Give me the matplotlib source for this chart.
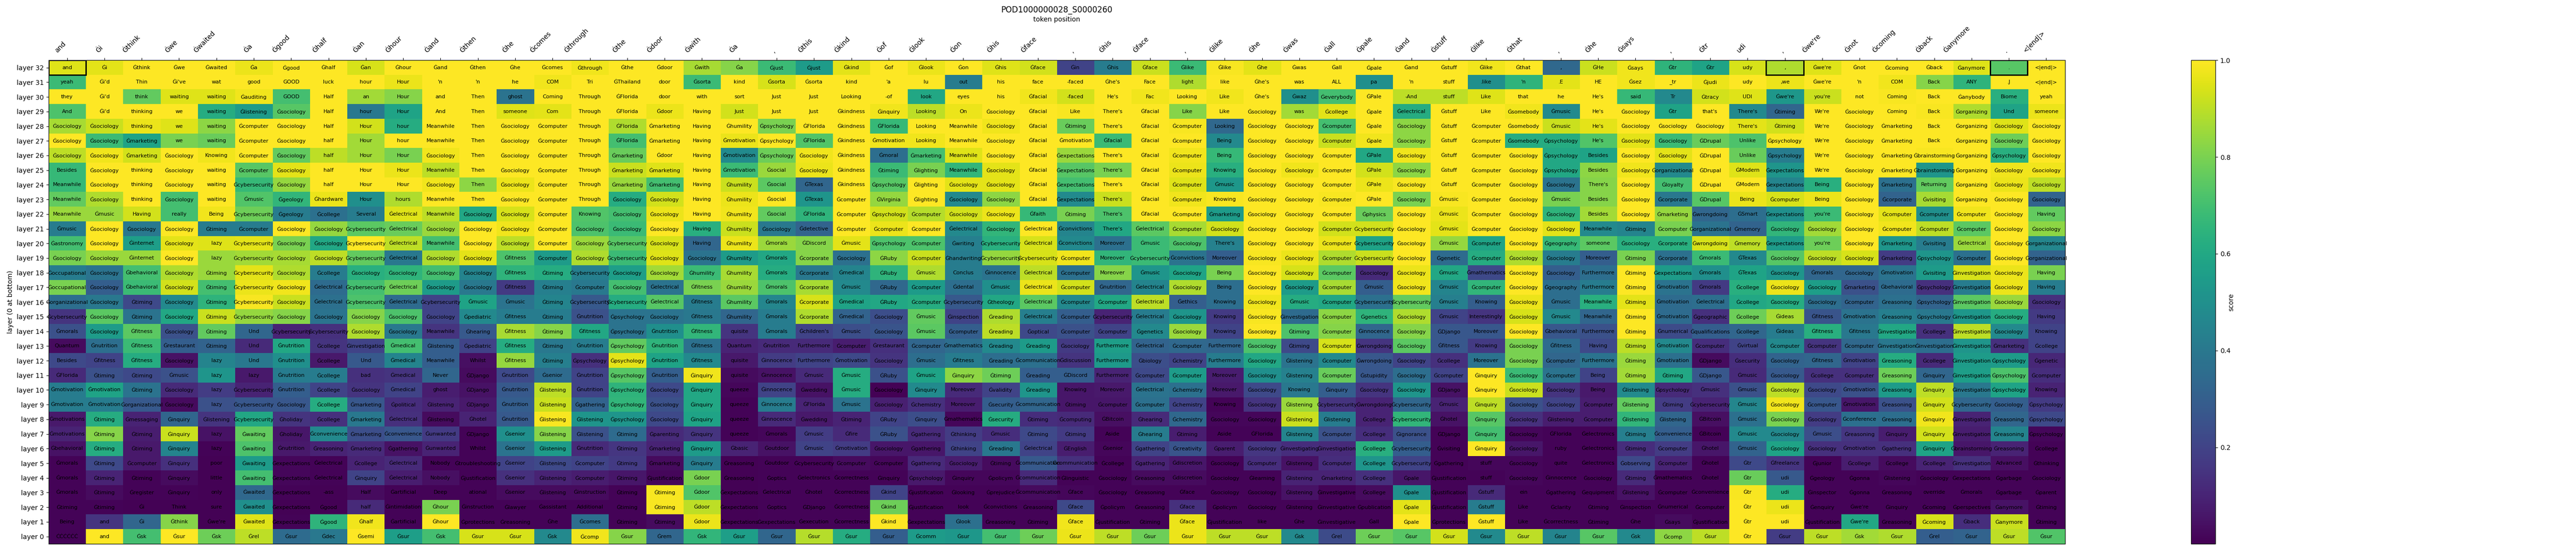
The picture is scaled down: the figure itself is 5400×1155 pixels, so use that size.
import matplotlib
matplotlib.use("Agg")
import matplotlib.pyplot as plt
import numpy as np
from matplotlib.patches import Rectangle

TITLE = "POD1000000028_S0000260"
TOKENS = ["and","Ġi","Ġthink","Ġwe","Ġwaited","Ġa","Ġgood","Ġhalf","Ġan","Ġhour","Ġand","Ġthen","Ġhe","Ġcomes","Ġthrough","Ġthe","Ġdoor","Ġwith","Ġa",",",
          "Ġthis","Ġkind","Ġof","Ġlook","Ġon","Ġhis","Ġface",",","Ġhis","Ġface",",","Ġlike","Ġhe","Ġwas","Ġall","Ġpale","Ġand","Ġstuff","Ġlike","Ġthat",",",
          "Ġhe","Ġsays",",","Ġtr","udi",",","Ġwe're","Ġnot","Ġcoming","Ġback","Ġanymore",".","<|end|>"]
LAYERS = [f"layer {i}" for i in range(32, -1, -1)]
HIGHLIGHT_COLUMNS = [0, 46, 52]

W00 = "and yeah they And Ġsociology Ġsociology Ġsociology Besides Meanwhile Meanwhile Meanwhile Ġmusic Ġastronomy Ġsociology Ġoccupational Ġoccupational Ġorganizational Ġcybersecurity Ġmorals Quantum Besides ĠFlorida Ġmotivation Ġmotivation Ġmotivations Ġmotivations Ġbehavioral Ġmorals Ġmorals Ġmorals Ġtiming Being ĊĊĊĊĊĊ".split()
S00 = [.95,.68,1,.72,.87,1,.9,.67,.67,.76,.85,.42,.7,.8,.42,.8,.36,.15,.25,.03,.22,.12,.42,.42,.07,.1,.05,.01,.01,.01,.01,.01,.01]
W01 = "Ġi Ġi'd Ġi'd Ġi'd Ġsociology Ġsociology Ġsociology Ġsociology Ġsociology Ġsociology Ġmusic Ġsociology Ġsociology Ġsociology Ġsociology Ġsociology Ġsociology Ġsociology Ġsociology Ġnutrition Ġfitness Ġtiming Ġmotivation Ġmotivation Ġtiming Ġtiming Ġtiming Ġtiming Ġtiming Ġtiming Ġtiming and and".split()
S01 = [.96,1,1,1,.92,.68,.98,1,1,.88,.85,1,1,.85,.38,.3,.4,.75,.55,.36,.2,.25,.58,.42,.62,.82,.62,.22,.1,.03,.01,.15,1]
W02 = "Ġthink Thin think thinking thinking Ġmarketing Ġmarketing thinking thinking thinking Having Ġsociology Ġinternet Ġinternet Ġbehavioral Ġbehavioral Ġtiming Ġtiming Ġfitness Ġfitness Ġfitness Ġtiming Ġtiming Ġorganizational Ġmessaging Ġtiming Ġtiming Ġcomputer Ġtiming Ġregister Ġi Ġi Ġsk".split()
S02 = [1,1,.76,1,.97,.58,.93,1,1,1,.93,.4,.56,.85,.7,.68,.22,.38,.75,.68,.62,.22,.38,.28,.1,.08,.07,.07,.01,.01,.005,.33,.7]
W03 = "Ġwe Ġi've waiting we we we Ġsociology Ġsociology Ġsociology Ġsociology really Ġsociology Ġsociology Ġsociology Ġsociology Ġsociology Ġsociology Ġsociology Ġsociology Ġrestaurant Ġsociology Ġmusic Ġsociology Ġsociology Ġinquiry Ġinquiry Ġinquiry Ġinquiry Ġinquiry Ġinquiry Think Ġthink Ġsur".split()
S03 = [1,1,.95,1,.95,.8,1,1,1,.7,.7,1,.96,1,.88,.93,.47,.6,.25,.3,.05,.25,.12,.03,.33,.92,.45,.14,.03,.01,.005,.82,1]
W04 = "Ġwaited wat waiting waiting waiting waiting Knowing waiting waiting waiting Being Ġtiming lazy lazy Ġtiming Ġtiming Ġtiming Ġtiming Ġtiming Ġtiming lazy lazy lazy lazy Ġlistening lazy lazy poor little only sure Ġwe're Ġsk".split()
S04 = [1,1,.95,.62,.83,.77,.98,1,1,1,.98,.42,.95,.85,.85,.7,.65,.92,.76,.32,.45,.52,.18,.25,.15,.05,.01,.005,.005,.005,.005,.005,.78]
W05 = "Ġa good Ġauditing Ġlistening Ġcomputer Ġcomputer Ġcomputer Ġcomputer Ġcybersecurity Ġmusic Ġcybersecurity Ġcomputer Ġcybersecurity Ġcybersecurity Ġcybersecurity Ġcybersecurity Ġcybersecurity Ġcybersecurity Und Und Und lazy Ġcybersecurity Ġcybersecurity Ġcybersecurity Ġwaiting Ġwaiting Ġwaiting Ġwaiting Ġwaited Ġwaited Ġwaited Ġrel".split()
S05 = [.97,1,.98,.55,1,1,1,.74,.67,.73,.78,.42,.96,.86,.96,.97,.99,.84,.33,.12,.4,.07,.1,.27,.6,.76,.72,.55,.7,.34,.5,.95,.9]
W06 = "Ġgood GOOD GOOD Ġsociology Ġsociology Ġsociology Ġsociology Ġsociology Ġsociology Ġgeology Ġgeology Ġsociology Ġsociology Ġsociology Ġsociology Ġsociology Ġsociology Ġsociology Ġcybersecurity Ġnutrition Ġnutrition Ġnutrition Ġnutrition Ġsociology Ġholiday Ġholiday Ġnutrition Ġexpectations Ġexpectations Ġexpectations Ġexpectations Ġexpectations Ġsur".split()
S06 = [1,1,.7,.74,1,1,.76,.96,.84,.66,.42,1,.8,.87,.88,.98,.92,.82,.1,.6,.5,.42,.3,.27,.15,.06,.07,.02,.02,.01,.005,.01,.35]
W07 = "Ġhalf luck Half Half Half half half half half Ġhardware Ġcollege Ġsociology Ġsociology Ġsociology Ġcollege Ġelectrical Ġelectrical Ġsociology Ġcybersecurity Ġcollege Ġcollege Ġcollege Ġcollege Ġcollege Ġcollege Ġconvenience Ġreasoning Ġelectrical Ġelectrical -ass Ġgood Ġgood Ġdec".split()
S07 = [1,1,1,1,1,1,.9,1,1,.97,.37,.84,.6,.9,.42,.35,.37,.38,.14,.15,.07,.42,.2,.62,.14,.47,.1,.01,.01,.005,.005,.65,.4]
W08 = "Ġan hour an hour Hour Hour Hour Hour Hour Hour Several Ġcybersecurity Ġcybersecurity Ġcybersecurity Ġsociology Ġcybersecurity Ġcybersecurity Ġsociology Ġsociology Ġinvestigation Und bad Ġsociology Ġmarketing Ġmarketing Ġmarketing Ġmarketing Ġcollege Ġinquiry Half half Ġhalf Ġsemi".split()
S08 = [.94,1,.86,.4,.93,.86,.86,1,1,.5,.42,.75,1,.76,.63,.7,.72,.82,.88,.2,.28,.14,.15,.27,.4,.24,.12,.1,.2,.03,.12,.98,1]
W09 = "Ġhour Hour Hour Hour hour hour Hour Hour Hour hours Ġelectrical Ġelectrical Ġelectrical Ġelectrical Ġsociology Ġelectrical Ġelectrical Ġsociology Ġsociology Ġmedical Ġmedical Ġmedical Ġmedical Ġpolitical Ġelectrical Ġconvenience Ġgathering Ġelectrical Ġelectrical Ġartificial Ġintimidation Ġartificial Ġsur".split()
S09 = [1,.97,.82,.58,.62,1,.8,.97,1,.88,.95,.77,.9,.4,.65,.78,.35,.72,.4,.7,.45,.15,.2,.13,.14,.27,.05,.12,.08,.01,.01,.01,.56]
W10 = "Ġand 'n and And Meanwhile Meanwhile Ġsociology Meanwhile Ġsociology Meanwhile Meanwhile Ġsociology Meanwhile Ġsociology Ġsociology Ġsociology Ġcybersecurity Ġsociology Meanwhile Ġlistening Meanwhile Never ghost Ġlistening Ġlistening Ġunwanted Ġunwanted Nobody Nobody Deep Ġhour Ġhour Ġsk".split()
S10 = [1,1,1,1,1,1,.98,.9,.98,1,.9,.85,.7,.88,.7,.55,.2,.2,.15,.3,.3,.33,.08,.1,.03,.17,.1,.01,.04,.01,.8,1,.7]
W11 = "Ġthen 'n Then Then Then Then Then Then Then Then Ġsociology Ġsociology Ġsociology Ġsociology Ġsociology Ġsociology Ġmusic Ġpediatric Ġhearing Ġpediatric Whilst ĠDjango ĠDjango ĠDjango Ġhotel ĠDjango Whilst Ġtroubleshooting Ġjustification ational Ġinstruction Ġprotections Ġsur".split()
S11 = [1,1,1,1,1,1,1,1,.83,1,.6,1,1,.96,.45,.4,.58,.47,.28,.2,.04,.03,.05,.07,.1,.01,.01,.01,.01,.01,.01,.01,.94]
W12 = "Ġhe he ghost someone Ġsociology Ġsociology Ġsociology Ġsociology Ġsociology Ġsociology Ġsociology Ġsociology Ġsociology Ġfitness Ġfitness Ġfitness Ġmusic Ġfitness Ġfitness Ġfitness Ġfitness Ġnutrition Ġnutrition Ġnutrition Ġnutrition Ġsenior Ġsenior Ġsenior Ġsenior Ġsenior Ġlawyer Ġreasoning Ġsur".split()
S12 = [1,1,.38,.95,1,1,1,1,.97,1,.94,.98,.9,.72,.65,.17,.38,.42,.87,.62,.84,.22,.28,.3,.28,.5,.38,.2,.14,.03,.01,.01,.94]
W13 = "Ġcomes COM Coming Com Ġcomputer Ġcomputer Ġcomputer Ġcomputer Ġcomputer Ġcomputer Ġcomputer Ġcomputer Ġcomputer Ġcomputer Ġtiming Ġtiming Ġtiming Ġtiming Ġtiming Ġtiming Ġtiming Ġsenior Ġlistening Ġlistening Ġlistening Ġlistening Ġlistening Ġlistening Ġlistening Ġlistening Ġassistant Ġhe Ġsk".split()
S13 = [1,.98,1,.96,1,1,1,1,1,1,1,1,1,.55,.62,.43,.45,.42,.82,.4,.43,.35,.9,.92,.99,.82,.55,.22,.1,.03,.01,.01,.47]
W14 = "Ġthrough Tri Through Through Through Through Through Through Through Through Knowing Ġsociology Ġsociology Ġsociology Ġcybersecurity Ġcomputer Ġcybersecurity Ġnutrition Ġfitness Ġnutrition Ġpsychology Ġnutrition Ġnutrition Ġgathering Ġlistening Ġlistening Ġnutrition Ġcomputer Ġcomputer Ġinstruction Additional Ġcomes Ġcomp".split()
S14 = [.98,1,1,1,1,1,1,1,1,1,.73,.72,.85,.88,.43,.4,.28,.25,.6,.42,.14,.2,.2,.32,.52,.25,.12,.2,.08,.03,.01,.36,.98]
W15 = "Ġthe ĠThailand ĠFlorida ĠFlorida ĠFlorida ĠFlorida Ġmarketing Ġmarketing Ġmarketing Ġsociology Ġsociology Ġsociology Ġcybersecurity Ġcybersecurity Ġsociology Ġsociology Ġcybersecurity Ġpsychology Ġpsychology Ġpsychology Ġpsychology Ġpsychology Ġpsychology Ġpsychology Ġpsychology Ġtiming Ġtiming Ġtiming Ġtiming Ġtiming Ġtiming Ġtiming Ġsur".split()
S15 = [1,1,1,1,.88,.7,.77,.92,.85,.62,.7,.68,.74,.68,.56,.7,.62,.38,.38,.76,.96,.74,.65,.66,.52,.35,.16,.17,.06,.01,.01,.01,.82]
W16 = "Ġdoor door door Ġdoor Ġmarketing Ġmarketing Ġdoor Ġmarketing Ġmarketing Ġsociology Ġsociology Ġsociology Ġsociology Ġsociology Ġsociology Ġelectrical Ġelectrical Ġsociology Ġnutrition Ġnutrition Ġnutrition Ġnutrition Ġsociology Ġsociology Ġsociology Ġparenting Ġmarketing Ġmarketing Ġjustification Ġtiming Ġtiming Ġtiming Ġrem".split()
S16 = [1,1,1,.97,1,1,1,.95,.7,.93,.97,1,.94,.95,.86,.38,.74,.38,.5,.65,.58,.3,.22,.25,.22,.12,.1,.03,.02,.99,.99,.03,.33]
W17 = "Ġwith Ġsorta with Having Having Having Having Having Having Having Having Having Having Ġsociology Ġhumility Ġfitness Ġfitness Ġfitness Ġfitness Ġfitness Ġfitness Ġinquiry Ġinquiry Ġinquiry Ġinquiry Ġinquiry Ġinquiry Ġinquiry Ġdoor Ġdoor Ġdoor Ġdoor Ġsk".split()
S17 = [.87,.68,1,1,1,1,1,1,1,1,1,.63,.33,.38,.68,.8,.42,.4,.66,.37,.47,.98,.6,.6,.58,.15,.55,.42,.8,.73,.9,.97,.66]
W18 = "Ġa kind sort Just Ġhumility Ġmotivation Ġmotivation Ġmotivation Ġhumility Ġhumility Ġhumility Ġhumility Ġhumility Ġhumility Ġhumility Ġhumility Ġhumility Ġhumility quisite Quantum quisite quisite queeze queeze queeze queeze Ġbasic Ġreasoning Ġreasoning Ġexpectations Ġexpectations Ġexpectations Ġsur".split()
S18 = [.82,1,1,.93,1,.97,.48,.68,.92,.97,.98,.92,.97,.55,.87,.85,.75,.33,.15,.1,.07,.03,.02,.01,.01,.01,.1,.005,.005,.005,.005,.005,.56]
W19 = "Ġjust Ġsorta Just Just Ġpsychology Ġpsychology Ġpsychology Ġsocial Ġsocial Ġsocial Ġsocial Ġsociology Ġmorals Ġmorals Ġmorals Ġmorals Ġmorals Ġmorals Ġmorals Ġnutrition Ġinnocence Ġinnocence Ġinnocence Ġinnocence Ġinnocence Ġmorals Ġoutdoor Ġoutdoor Ġoptics Ġelectrical Ġoptics Ġexpectations Ġsur".split()
S19 = [.68,.94,1,1,.8,1,.78,.85,.75,1,.76,.4,.85,.6,.62,.72,.46,.42,.42,.12,.18,.05,.2,.42,.12,.02,.05,.01,.01,.01,.01,.01,.33]
W20 = "Ġjust Ġsorta Just Just ĠFlorida ĠFlorida Ġsociology Ġsociology ĠTexas ĠTexas ĠFlorida Ġdetective ĠDiscord Ġcorporate Ġcorporate Ġcorporate Ġcorporate Ġcorporate Ġchildren's Furthermore Furthermore Ġmusic Ġwedding ĠFlorida Ġwedding Ġmusic Ġmusic Ġcybersecurity Ġelectronics Ġhotel ĠDjango Ġexecution Ġsur".split()
S20 = [.55,1,1,1,1,.73,.98,.97,.33,.52,.65,.32,.82,.82,.4,.87,.94,.88,.2,.12,.2,.12,.05,.1,.07,.18,.2,.01,.01,.01,.01,.01,.89]
W21 = "Ġkind kind Looking Ġkindness Ġkindness Ġkindness Ġkindness Ġkindness Ġkindness Ġcomputer Ġcomputer Ġcomputer Ġmusic Ġsociology Ġmedical Ġmusic Ġmedical Ġmedical Ġmusic Ġcomputer Ġmotivation Ġmusic Ġmusic Ġmusic Ġtiming Ġfire Ġmotivation Ġcomputer Ġcorrectness Ġcorrectness Ġcorrectness Ġcorrectness Ġsur".split()
S21 = [.96,1,1,1,1,1,1,1,1,1,1,1,.96,.37,.45,.47,.58,.32,.24,.08,.22,.62,.62,.38,.1,.12,.18,.03,.01,.01,.01,.01,.62]
W22 = "Ġof 'a -of Ġinquiry ĠFlorida Ġmotivation Ġmoral Ġtiming Ġpsychology ĠVirginia Ġpsychology Ġcomputer Ġpsychology ĠRuby ĠRuby ĠRuby ĠRuby Ġsociology Ġsociology Ġrestaurant Ġsociology ĠRuby Ġsociology Ġsociology ĠRuby ĠRuby Ġsociology Ġcomputer Ġinquiry Ġkind Ġkind Ġkind Ġsur".split()
S22 = [1,1,1,.98,.67,.98,.36,.68,.74,.84,.93,.97,.72,.83,.65,.34,.6,.24,.26,.14,.15,.25,.005,.09,.2,.25,.06,.02,.01,.2,.78,1,.3]
W23 = "Ġlook lu look Looking Looking Looking Ġmarketing Ġlighting Ġlighting Ġlighting Ġcomputer Ġcomputer Ġcomputer Ġcomputer Ġmusic Ġcomputer Ġcomputer Ġmusic Ġmusic Ġcomputer Ġmusic Ġmusic Ġinquiry Ġchemistry Ġinquiry Ġgathering Ġgathering Ġgathering Ġpsychology Ġjustification Ġjustification Ġexpectations Ġcomm".split()
S23 = [.97,1,.6,.9,1,.98,.7,.8,1,1,.89,1,.72,.92,.88,.55,.62,.76,.75,.33,.36,.58,.48,.14,.24,.12,.06,.12,.07,.01,.01,.01,.55]
W24 = "Ġon out eyes On Meanwhile Meanwhile Meanwhile Meanwhile Ġsociology Ġsociology Ġsociology Ġelectrical Ġwriting Ġhandwriting Conclus Ġdental Ġcybersecurity Ġinspection Ġcomputer Ġmathematics Ġfitness Ġinquiry Moreover Moreover Ġmathematics Ġthinking Ġthinking Ġsociology Ġinquiry Ġlooking look Ġlook Ġsur".split()
S24 = [1,.42,1,.97,1,1,.95,.66,.96,.47,.93,.47,.43,.42,.42,.36,.28,.2,.3,.36,.42,.83,.12,.08,.02,.18,.2,.08,.02,.01,.01,.37,.53]
W25 = "Ġhis his his Ġsociology Ġsociology Ġsociology Ġsociology Ġsociology Ġsociology Ġsociology Ġsociology Ġsociology Ġcybersecurity Ġcybersecurity Ġinnocence Ġmusic Ġtheology Ġreading Ġreading Ġreading Ġreading Ġtiming Ġvalidity Ġsecurity Ġsecurity Ġmusic Ġreading Ġtiming Ġpolicym Ġprejudice Ġconvictions Ġreasoning Ġsur".split()
S25 = [.95,1,1,1,.98,1,1,.96,.96,.83,.97,.66,.63,.84,.38,.5,.6,.88,.9,.47,.36,.78,.2,.3,.62,.13,.4,.03,.02,.01,.01,.01,.7]
W26 = "Ġface face Ġfacial Ġfacial Ġfacial Ġfacial Ġfacial Ġfacial Ġfacial Ġfacial Ġfaith Ġelectrical Ġelectrical Ġcybersecurity Ġelectrical Ġelectrical Ġelectrical Ġelectrical Ġoptical Ġreading Ġcommunication Ġreading Ġreading Ġcommunication Ġtiming Ġtiming Ġelectrical Ġcommunication Ġcommunication Ġcommunication Ġreasoning Ġtiming Ġsur".split()
S26 = [.93,1,.98,1,1,1,1,1,1,1,.67,1,.94,.94,.9,.97,.75,.43,.22,.55,.37,.3,.52,.33,.13,.22,.2,.28,.12,.03,.01,.01,.78]
W27 = "Ġin -faced -faced Like Ġtiming Ġmotivation Ġexpectations Ġexpectations Ġexpectations Ġexpectations Ġtiming Ġconvictions Ġconvictions Ġcomputer Ġcomputer Ġcomputer Ġcomputer Ġcomputer Ġcomputer Ġsociology Ġdiscussion ĠDiscord Knowing Ġtiming Ġcomputing Ġtiming ĠEnglish Ġcommunication Ġlinguistic Ġface Ġface Ġface Ġsur".split()
S27 = [.2,1,.93,.99,.77,1,.85,.74,.7,.48,.8,.45,.47,.98,.37,.93,.47,.3,.25,.17,.15,.3,.06,.06,.12,.17,.08,.14,.01,.02,.22,.98,.97]
W28 = "Ġhis Ġhe's He's There's There's Ġfacial There's There's There's There's There's There's Moreover Moreover Moreover Ġnutrition Ġcomputer Ġcybersecurity Ġcomputer Furthermore Furthermore Furthermore Moreover Ġcomputer ĠBitcoin Aside Ġsenior Ġcollege Ġsociology Ġsociology Ġpolicym Ġjustification Ġsur".split()
S28 = [.42,1,1,1,1,.68,1,.8,1,.92,.72,.6,.37,.66,.82,.33,.6,.1,.2,.56,.54,.1,.07,.06,.04,.01,.02,.01,.01,.01,.01,.01,.9]
W29 = "Ġface Face Fac Ġfacial Ġfacial Ġfacial Ġfacial Ġfacial Ġfacial Ġfacial Ġfacial Ġelectrical Ġmusic Ġcybersecurity Ġmusic Ġelectrical Ġelectrical Ġelectrical Ġgenetics Ġelectrical Ġbiology Ġcomputer Ġelectrical Ġcomputer Ġhearing Ġhearing Ġgathering Ġgathering Ġreasoning Ġreasoning Ġreasoning Ġtiming Ġsur".split()
S29 = [.92,1,.98,1,1,1,1,1,1,1,1,.75,.68,.68,.52,.45,.9,.42,.47,.32,.24,.22,.38,.37,.12,.42,.2,.1,.03,.01,.01,.01,.78]
W30 = "Ġlike light Looking Like Ġcomputer Ġcomputer Ġcomputer Ġcomputer Ġcomputer Ġcomputer Ġcomputer Ġcomputer Ġsociology Ġconvictions Ġsociology Ġsociology Ġethics Ġsociology Ġsociology Ġcomputer Ġchemistry Ġcomputer Ġchemistry Ġchemistry Ġchemistry Ġtiming Ġcreativity Ġdiscretion Ġdiscretion Ġface Ġface Ġface Ġsur".split()
S30 = [.68,.88,1,.82,.99,1,.98,.97,.95,.98,1,.87,.72,.38,.58,.88,.3,.52,.85,.34,.2,.55,.37,.2,.34,.08,.26,.06,.03,.01,.14,.97,.97]
W31 = "Ġlike like Like Like Looking Being Being Knowing Ġmusic Knowing Ġmarketing Ġsociology There's Moreover Being Being Knowing Knowing Knowing Furthermore Furthermore Moreover Moreover Knowing Ġsociology Aside Ġparent Ġsociology Ġsociology Ġsociology Ġpolicym Ġjustification Ġsur".split()
S31 = [.99,1,.98,1,.34,.47,.67,.63,.53,.99,.55,.93,.44,.3,.8,.36,.36,.17,.2,.33,.42,.08,.07,.01,.02,.01,.08,.01,.01,.01,.01,.01,.9]
W32 = "Ġhe Ġhe's Ġhe's Ġsociology Ġsociology Ġsociology Ġsociology Ġsociology Ġsociology Ġsociology Ġsociology Ġsociology Ġsociology Ġsociology Ġsociology Ġsociology Ġsociology Ġsociology Ġsociology Ġsociology Ġsociology Ġsociology Ġsociology Ġsociology Ġsociology ĠFlorida Ġsociology Ġcomputer Ġlearning Ġsociology Ġsociology like Ġsur".split()
S32 = [.96,1,1,1,1,1,1,1,1,1,1,1,1,.99,1,1,.98,.99,1,.72,.6,.5,.22,.15,.02,.01,.16,.13,.01,.01,.01,.01,.9]
W33 = "Ġwas was Ġwaz was Ġsociology Ġsociology Ġsociology Ġsociology Ġsociology Ġsociology Ġsociology Ġsociology Ġsociology Ġsociology Ġsociology Ġsociology Ġmusic Ġinvestigation Ġtiming Ġtiming Ġlistening Ġlistening Knowing Ġlistening Ġlistening Ġlistening Ġinvestigating Ġlistening Ġlistening Ġlistening Ġlistening Ġhe Ġsk".split()
S33 = [1,1,.5,.86,1,1,1,.98,1,1,1,1,1,.97,.94,.55,.62,.35,.72,.22,.38,.44,.4,.85,.92,.45,.13,.05,.1,.05,.01,.01,.47]
W34 = "Ġall ALL Ġeverybody Ġcollege Ġcomputer Ġcomputer Ġcomputer Ġcomputer Ġcomputer Ġcomputer Ġcomputer Ġcomputer Ġcomputer Ġcomputer Ġcomputer Ġcomputer Ġcomputer Ġcomputer Ġcomputer Ġcomputer Ġcomputer Ġcomputer Ġinquiry Ġcybersecurity Ġlistening Ġcomputer Ġinvestigation Ġcomputer Ġmarketing Ġinvestigative Ġinvestigative Ġinvestigative Ġrel".split()
S34 = [1,1,.7,.96,.7,.92,1,1,1,.99,1,.93,.97,.88,.75,.87,.6,.83,.82,.94,.47,.77,.3,.15,.42,.25,.12,.13,.1,.01,.01,.01,.23]
W35 = "Ġpale pa ĠPale Ġpale Ġpale Ġpale ĠPale ĠPale ĠPale ĠPale Ġphysics Ġcybersecurity Ġcybersecurity Ġcybersecurity Ġsociology Ġmusic Ġcybersecurity Ġgenetics Ġinnocence Ġwrongdoing Ġwrongdoing Ġstupidity Ġsociology Ġwrongdoing Ġcollege Ġcollege Ġcollege Ġcollege Ġcollege Ġcollege Ġpublication Ġall Ġsur".split()
S35 = [1,.5,1,1,1,.98,.6,.93,.97,1,.77,.93,.58,.92,.12,.3,.37,.65,.33,.15,.27,.27,.15,.1,.1,.13,.63,.52,.14,.03,.01,.01,.78]
W36 = "Ġand 'n -And Ġelectrical Ġsociology Ġsociology Ġsociology Ġsociology Ġsociology Ġsociology Ġsociology Ġsociology Ġsociology Ġsociology Ġsociology Ġsociology Ġcybersecurity Ġsociology Ġsociology Ġsociology Ġsociology Ġsociology Ġsociology Ġcybersecurity Ġcybersecurity Ġignorance Ġcybersecurity Ġcybersecurity Ġpale Ġpale Ġpale Ġpale Ġsur".split()
S36 = [1,1,.9,.62,.83,.83,.98,.83,.99,.8,1,1,1,1,.97,.98,.76,.88,.82,.75,.2,.36,.52,.33,.66,.25,.3,.2,.06,.5,.96,1,.74]
W37 = "Ġstuff stuff stuff Ġstuff Ġstuff Ġstuff Ġstuff Ġstuff Ġstuff Ġmusic Ġmusic Ġmusic Ġmusic Ġgenetic Ġmusic Ġmusic Ġmusic Ġmusic ĠDjango Ġfitness Ġcollege Ġcomputer ĠDjango Ġmusic Ġhotel ĠDjango Ġvisiting Ġgathering Ġjustification Ġjustification Ġjustification Ġprotections Ġsur".split()
S37 = [1,1,.9,1,1,1,1,1,1,.99,.97,.96,.84,.35,.6,.45,.43,.2,.27,.27,.14,.2,.05,.1,.05,.01,.01,.01,.01,.01,.01,.01,.93]
W38 = "Ġlike .like Like Like Ġcomputer Ġcomputer Ġcomputer Ġcomputer Ġcomputer Ġcomputer Ġcomputer Ġcomputer Ġcomputer Ġcomputer Ġmathematics Ġcomputer Knowing Interestingly Moreover Knowing Moreover Ġinquiry Ġinquiry Ġinquiry Ġinquiry Ġinquiry Ġinquiry stuff stuff Ġstuff Ġstuff Ġstuff Ġsur".split()
S38 = [.98,.5,.95,1,1,1,1,1,1,1,1,1,.58,.62,.22,.66,.3,.15,.27,.17,.38,1,1,.9,.74,.7,1,.02,.01,.12,.42,1,.48]
W39 = "Ġthat 'n that Ġsomebody Ġsomebody Ġsomebody Ġsociology Ġsociology Ġsociology Ġsociology Ġsociology Ġsociology Ġsociology Ġsociology Ġsociology Ġsociology Ġsociology Ġsociology Ġsociology Ġsociology Ġsociology Ġsociology Ġsociology Ġsociology Ġsociology Ġsociology Ġsociology Ġsociology Ġsociology ein Like Like Ġsur".split()
S39 = [1,.65,1,.98,1,.62,1,1,1,1,1,1,1,.88,1,1,.97,.94,1,.8,.8,.68,.92,.25,.14,.02,.06,.02,.02,.01,.01,.01,.9]
W40 = ", .E he Ġmusic Ġmusic Ġpsychology Ġpsychology Ġpsychology Ġsociology Ġmusic Ġsociology Ġsociology Ġgeography Ġsociology Ġsociology Ġgeography Ġmusic Ġmusic Ġbehavioral Ġfitness Ġcomputer Ġcomputer Ġsociology Ġsociology Ġlistening ĠFlorida ruby quite Ġinnocence Ġgathering Ġclarity Ġcorrectness Ġsur".split()
S40 = [.34,.96,1,.48,.92,.62,.6,.6,.38,.8,.65,.96,.67,.42,.3,.36,.36,.47,.27,.35,.33,.38,.15,.2,.08,.01,.01,.01,.01,.01,.01,.01,.45]
W41 = "ĠHe HE He's He's He's He's Besides Besides There's Besides Besides Meanwhile someone Moreover Furthermore Furthermore Meanwhile Meanwhile Furthermore Having Furthermore Being Being Ġcomputer Ġcomputer Ġelectronics Ġelectronics Ġelectronics Ġsociology Ġequipment Ġtiming Ġtiming Ġsur".split()
S41 = [.92,1,1,1,.96,.73,.58,.83,.82,.82,.86,.47,.75,.3,.36,.42,.63,.33,.25,.22,.38,.2,.07,.08,.08,.01,.01,.01,.01,.01,.01,.01,.74]
W42 = "Ġsays Ġsez said Ġsociology Ġsociology Ġsociology Ġsociology Ġsociology Ġsociology Ġsociology Ġsociology Ġtiming Ġsociology Ġtiming Ġtiming Ġtiming Ġtiming Ġtiming Ġtiming Ġtiming Ġtiming Ġtiming Ġlistening Ġlistening Ġlistening Ġtiming Ġtiming Ġobserving Ġtiming Ġlistening Ġinspection Ġhe Ġsk".split()
S42 = [.98,.98,.67,1,1,.96,1,.98,1,1,1,.45,.63,.8,1,1,.96,1,1,.9,.85,.86,.48,.76,.66,.43,.13,.22,.12,.05,.01,.01,.47]
W43 = "Ġtr _tr Tr Ġtr Ġsociology Ġsociology Ġsociology Ġorganizational Ġloyalty Ġcorporate Ġmarketing Ġcomputer Ġcorporate Ġcorporate Ġexpectations Ġmotivation Ġmotivation Ġmotivation Ġnumerical Ġmotivation Ġmotivation Ġtiming Ġpsychology Ġtiming Ġlistening Ġconvenience Ġcomputer Ġcomputer Ġmathematics Ġcomputer Ġnumerical Ġsays Ġcomp".split()
S43 = [.65,1,.47,.58,1,.68,.96,.47,.7,.4,.84,.8,.63,.37,.55,.38,.35,.35,.23,.47,.37,.6,.12,.18,.33,.3,.18,.1,.01,.01,.01,.03,.83]
W44 = "Ġtr Ġjudi Ġtracy that's Ġsociology ĠDrupal ĠDrupal ĠDrupal ĠDrupal ĠDrupal Ġwrongdoing Ġorganizational Ġwrongdoing Ġmorals Ġmorals Ġmorals Ġelectrical Ġgeographic Ġqualifications Ġcomputer ĠDjango ĠDjango Ġmusic Ġcybersecurity ĠBitcoin ĠBitcoin Ġhotel Ġhotel Ġhotel Ġconvenience Ġcomputer Ġjustification Ġsur".split()
S44 = [.58,.97,.93,1,1,.77,1,1,1,.74,.33,.38,.94,.68,.5,.17,.36,.14,.3,.13,.03,.27,.14,.1,.04,.01,.06,.01,.01,.01,.01,.01,.9]
W45 = "udy udy UDI There's There's Unlike Unlike ĠModern ĠModern Being ĠSmart Ġmemory Ġmemory ĠTexas ĠTexas Ġcollege Ġcollege Ġcollege Ġcollege Ġvirtual Ġsecurity Ġmusic Ġmusic Ġmusic Ġmusic Ġmusic Ġmusic Ġtr Ġtr Ġtr Ġtr Ġtr Ġtr".split()
S45 = [.94,1,.95,.47,.96,.72,.77,.95,1,.97,.36,.32,.9,.47,.58,.63,.6,.78,.33,.2,.13,.12,.25,.46,.37,.47,.32,.22,.77,.99,1,1,1]
W46 = ", ,we Ġwe're Ġtiming Ġtiming Ġpsychology Ġpsychology Ġexpectations Ġexpectations Ġcomputer Ġexpectations Ġsociology Ġexpectations Ġsociology Ġsociology Ġsociology Ġsociology Ġideas Ġideas Ġcomputer Ġsociology Ġsociology Ġsociology Ġsociology Ġsociology Ġsociology Ġsociology Ġfreelance udi udi udi udi Ġsur".split()
S46 = [.88,.97,.53,.33,.93,.99,.42,.52,.45,.94,.5,.66,.55,.74,.52,.97,.62,.87,.42,.47,.32,.28,.9,.98,.8,.47,.58,.15,.28,.62,.97,1,.18]
W47 = "Ġwe're Ġwe're you're We're We're We're We're We're Being Being you're Ġsociology you're Ġsociology Ġmorals Ġsociology Ġsociology Ġfitness Ġfitness Ġcomputer Ġfitness Ġcollege Ġsociology Ġcomputer Ġsociology Ġmusic Ġsociology Ġjunior Ġgeology Ġinspector Ġenquiry Ġjustification Ġsur".split()
S47 = [.95,1,.92,1,1,1,1,1,.63,.97,.68,.86,.78,.9,.33,.56,.36,.26,.63,.15,.33,.14,.22,.27,.18,.24,.14,.01,.01,.01,.01,.01,.9]
W48 = "Ġnot 'n not Ġsociology Ġsociology Ġsociology Ġsociology Ġsociology Ġsociology Ġsociology Ġsociology Ġsociology Ġsociology Ġsociology Ġsociology Ġmarketing Ġcomputer Ġmotivation Ġfitness Ġcomputer Ġmotivation Ġcomputer Ġmotivation Ġmotivation Ġconference Ġreasoning Ġmotivation Ġcollege Ġgonna Ġgonna Ġwe're Ġwe're Ġsk".split()
S48 = [1,1,1,1,1,1,1,1,1,1,1,1,1,.94,.33,.25,.32,.38,.4,.34,.2,.14,.25,.06,.37,.16,.14,.08,.01,.01,.01,.6,.86]
W49 = "Ġcoming COM Coming Coming Ġmarketing Ġmarketing Ġmarketing Ġmarketing Ġmarketing Ġcorporate Ġcomputer Ġcomputer Ġmarketing Ġmarketing Ġmotivation Ġbehavioral Ġreasoning Ġreasoning Ġinvestigation Ġinvestigation Ġreasoning Ġreasoning Ġreasoning Ġreasoning Ġreasoning Ġinquiry Ġgathering Ġcollege Ġlistening Ġreasoning Ġinquiry Ġreasoning Ġsur".split()
S49 = [1,.98,.99,1,1,1,1,1,.37,.32,.96,.98,.52,.18,.38,.35,.37,.43,.6,.4,.62,.78,.55,.25,.36,.08,.14,.03,.02,.01,.01,.01,.88]
W50 = "Ġback Back Back Back Back Back Ġbrainstorming Ġbrainstorming Returning Ġvisiting Ġcomputer Ġcomputer Ġvisiting Ġpsychology Ġvisiting Ġpsychology Ġpsychology Ġpsychology Ġcollege Ġinvestigation Ġcollege Ġinquiry Ġinquiry Ġinquiry Ġinquiry Ġinquiry Ġinquiry Ġcollege Ġsociology override Ġcoming Ġcoming Ġrel".split()
S50 = [1,.82,1,.99,1,1,.99,.52,.76,.87,.5,.9,.42,.52,.55,.14,.32,.4,.14,.36,.12,.33,.9,.93,.98,.93,.58,.1,.01,.01,.01,.94,.3]
W51 = "Ġanymore ANY Ġanybody Ġorganizing Ġorganizing Ġorganizing Ġorganizing Ġorganizing Ġorganizing Ġorganizing Ġcomputer Ġcomputer Ġelectrical Ġcomputer Ġinvestigation Ġinvestigation Ġinvestigation Ġinvestigation Ġinvestigation Ġinvestigation Ġinvestigation Ġinvestigation Ġinvestigation Ġcybersecurity Ġinvestigation Ġinvestigation Ġbrainstorming Ġinvestigation Ġexpectations Ġmorals Ġperspectives Ġback Ġsur".split()
S51 = [.95,.65,1,.88,1,1,1,1,1,1,.98,.75,.85,.37,.94,.42,.75,.53,.9,.52,.55,.56,.4,.33,.1,.08,.06,.14,.01,.01,.01,.13,.32]
W52 = ". .J Biome Und Ġsociology Ġsociology Ġpsychology Ġsociology Ġsociology Ġsociology Ġsociology Ġsociology Ġsociology Ġsociology Ġsociology Ġsociology Ġsociology Ġsociology Ġsociology Ġmarketing Ġpsychology Ġpsychology Ġpsychology Ġsociology Ġreasoning Ġreasoning Ġreasoning Advanced Ġgarbage Ġgarbage Ġanymore Ġanymore Ġsur".split()
S52 = [.74,1,.63,.58,.95,.78,.63,.98,.97,1,1,1,1,1,.97,.97,.85,.62,.47,.14,.55,.72,.58,.3,.33,.45,.1,.04,.01,.01,.05,.92,.9]
W53 = "<|end|> <|end|> yeah someone Ġsociology Ġsociology Ġsociology Ġsociology Ġsociology Ġsociology Having Ġsociology Ġorganizational Ġorganizational Having Having Ġsociology Having Knowing Ġcollege Ġgenetic Ġcomputer Knowing Ġpsychology Ġpsychology Ġpsychology Ġcollege Ġthinking Ġsociology Ġparent Ġtiming Ġtiming Ġsur".split()
S53 = [1,1,1,.97,1,1,1,.98,.9,.32,.76,.83,.46,.32,.8,.42,.14,.17,.2,.2,.11,.13,.1,.17,.22,.02,.01,.01,.01,.01,.01,.01,.73]

WORDS = [W00,W01,W02,W03,W04,W05,W06,W07,W08,W09,W10,W11,W12,W13,W14,W15,W16,W17,W18,W19,W20,W21,W22,W23,W24,W25,W26,
         W27,W28,W29,W30,W31,W32,W33,W34,W35,W36,W37,W38,W39,W40,W41,W42,W43,W44,W45,W46,W47,W48,W49,W50,W51,W52,W53]
SCORES = [S00,S01,S02,S03,S04,S05,S06,S07,S08,S09,S10,S11,S12,S13,S14,S15,S16,S17,S18,S19,S20,S21,S22,S23,S24,S25,S26,
          S27,S28,S29,S30,S31,S32,S33,S34,S35,S36,S37,S38,S39,S40,S41,S42,S43,S44,S45,S46,S47,S48,S49,S50,S51,S52,S53]
bad = [(i, len(w), len(s)) for i, (w, s) in enumerate(zip(WORDS, SCORES)) if len(w) != 33 or len(s) != 33]
if bad:
    raise SystemExit(f"bad columns: {bad}")

matrix = np.array(SCORES, dtype=float).T
nrows, ncols = matrix.shape

W, H, DPI = 5400, 1155, 100
fig = plt.figure(figsize=(W / DPI, H / DPI), dpi=DPI)
ax = fig.add_axes([101.5 / W, 1 - 1140 / H, (4328.6 - 101.5) / W, (1140 - 126.3) / H])
im = ax.imshow(matrix, cmap="viridis", vmin=0.0005, vmax=1.0, aspect="auto", interpolation="nearest")

ax.set_xticks(np.arange(ncols))
ax.set_xticklabels(TOKENS, rotation=45, ha="right")
ax.set_yticks(np.arange(nrows))
ax.set_yticklabels(LAYERS)
ax.xaxis.tick_top()
ax.tick_params(axis="x", pad=6)
ax.xaxis.set_label_position("top")
ax.set_xlabel("token position")
ax.set_ylabel("layer (0 at bottom)")
ax.set_title(TITLE, fontsize=12)

for c in range(ncols):
    for r in range(nrows):
        ax.text(c, r, WORDS[c][r], ha="center", va="center", fontsize=8, color="black", clip_on=False)

for c in HIGHLIGHT_COLUMNS:
    ax.add_patch(Rectangle((c - 0.5, -0.5), 1, 1, fill=False, edgecolor="black", linewidth=2))

cax = fig.add_axes([4593 / W, 1 - 1140 / H, 51 / W, (1140 - 126.3) / H])
cb = fig.colorbar(im, cax=cax)
cb.set_label("score", labelpad=-4)

fig.savefig("out.png", dpi=DPI)
